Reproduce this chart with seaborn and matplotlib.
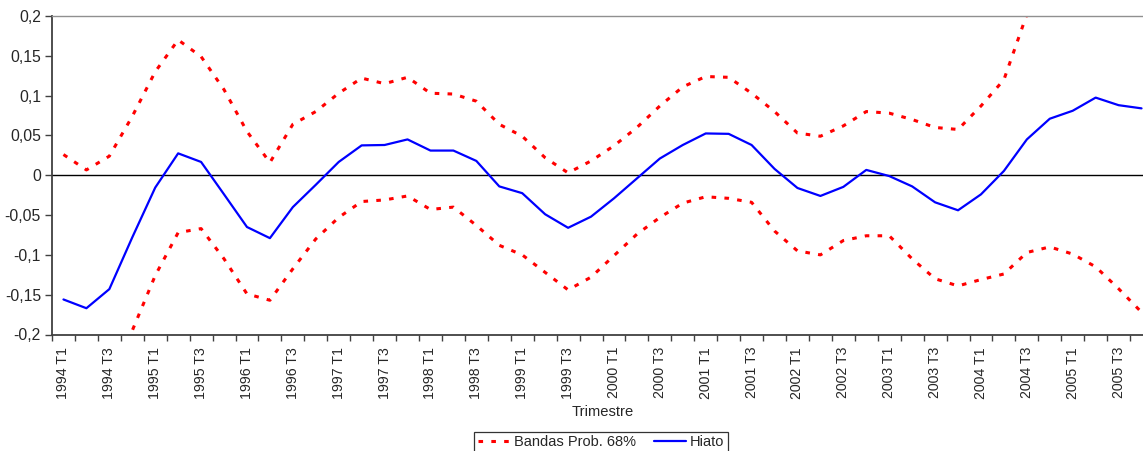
import matplotlib
matplotlib.use("Agg")
import matplotlib.pyplot as plt
from matplotlib.lines import Line2D
from matplotlib.ticker import FixedLocator, FuncFormatter
import numpy as np
import pandas as pd
import seaborn as sns

# Quarterly periods
years = list(range(1994, 2006))
quarters = ["T1", "T2", "T3", "T4"]
periods = [f"{y} {q}" for y in years for q in quarters]

# Output gap estimate
hiato = [-0.156, -0.167, -0.143, -0.078, -0.0155, 0.0275, 0.0167, -0.024,
         -0.065, -0.079, -0.040, -0.012, 0.0167, 0.0375, 0.038, 0.045,
         0.031, 0.031, 0.018, -0.014, -0.0225, -0.049, -0.066, -0.052,
         -0.029, -0.004, 0.021, 0.038, 0.0525, 0.052, 0.038, 0.008,
         -0.016, -0.026, -0.0146, 0.0067, -0.001, -0.014, -0.034, -0.044,
         -0.024, 0.0054, 0.045, 0.071, 0.081, 0.0975, 0.088, 0.084]

# 68% probability band, upper and lower limits
banda_sup = [0.026, 0.0067, 0.024, 0.074, 0.130, 0.170, 0.149, 0.1075,
             0.055, 0.016, 0.064, 0.080, 0.103, 0.122, 0.115, 0.123,
             0.103, 0.102, 0.093, 0.064, 0.049, 0.022, 0.003, 0.018,
             0.037, 0.060, 0.087, 0.111, 0.124, 0.123, 0.103, 0.080,
             0.053, 0.049, 0.062, 0.080, 0.078, 0.070, 0.060, 0.0575,
             0.087, 0.120, 0.202, 0.26, 0.29, 0.31, 0.32, 0.33]
banda_inf = [-0.30, -0.31, -0.27, -0.195, -0.126, -0.072, -0.067, -0.105,
             -0.149, -0.157, -0.1175, -0.080, -0.053, -0.033, -0.031, -0.026,
             -0.043, -0.040, -0.063, -0.088, -0.100, -0.122, -0.144, -0.128,
             -0.101, -0.074, -0.053, -0.035, -0.027, -0.029, -0.034, -0.070,
             -0.095, -0.100, -0.082, -0.076, -0.076, -0.105, -0.130, -0.139,
             -0.131, -0.124, -0.097, -0.090, -0.099, -0.115, -0.1425, -0.172]

y_ticks = [-0.2, -0.15, -0.1, -0.05, 0, 0.05, 0.1, 0.15, 0.2]

sns.set_theme(style="white")
plt.rcParams["font.family"] = ["Liberation Sans", "DejaVu Sans"]
plt.rcParams["font.size"] = 10

W, H = 1143, 451
fig = plt.figure(figsize=(W / 100, H / 100), dpi=100)
ax = fig.add_axes([52 / W, (H - 334.5) / H, (1153 - 52) / W, (334.5 - 16) / H])

df = pd.DataFrame({"idx": np.arange(len(periods)), "periodo": periods,
                   "hiato": hiato, "sup": banda_sup, "inf": banda_inf})

red_dash = (1.5, 2.7)
sns.lineplot(data=df, x="idx", y="sup", ax=ax, color="#FF0000", linewidth=2.2,
             legend=False)
sns.lineplot(data=df, x="idx", y="inf", ax=ax, color="#FF0000", linewidth=2.2,
             legend=False)
for ln in ax.lines:
    ln.set_dashes(red_dash)
    ln.set_dash_capstyle("butt")
ax.axhline(0, color="black", linewidth=1.0, zorder=1)
sns.lineplot(data=df, x="idx", y="hiato", ax=ax, color="#0000FF", linewidth=1.6,
             legend=False)

n = len(periods)
ax.set_xlim(-0.5, n - 0.5)
ax.set_ylim(-0.2, 0.2)

# Tick marks on category boundaries, labels every two quarters
ax.xaxis.set_major_locator(FixedLocator(np.arange(-0.5, n, 1.0)))
ax.xaxis.set_major_formatter(FuncFormatter(lambda v, p: ""))
ax.xaxis.set_minor_locator(FixedLocator(np.arange(0, n, 2)))
ax.set_xticklabels(periods[::2], minor=True, rotation=90, fontsize=10.2)
ax.tick_params(axis="x", which="major", direction="out", length=4, width=1,
               color="#404040", bottom=True)
ax.tick_params(axis="x", which="minor", length=0, pad=9, bottom=True)

ax.set_yticks(y_ticks)
ax.yaxis.set_major_formatter(FuncFormatter(lambda v, p: f"{v:g}".replace(".", ",")))
ax.tick_params(axis="y", direction="out", length=5, width=1, color="#404040",
               left=True, labelsize=11.3, pad=3)

for side in ["left", "bottom"]:
    ax.spines[side].set_color("#404040")
    ax.spines[side].set_linewidth(1.3)
for side in ["top", "right"]:
    ax.spines[side].set_color("#909090")
    ax.spines[side].set_linewidth(1.0)

ax.set_ylabel("")
ax.set_xlabel("Trimestre", fontsize=10.6, labelpad=4)
ax.grid(False)

handles = [Line2D([0], [0], color="#FF0000", linewidth=2.2, dashes=red_dash,
                  dash_capstyle="butt"),
           Line2D([0], [0], color="#0000FF", linewidth=1.6)]
leg = fig.legend(handles, ["Bandas Prob. 68%", "Hiato"], loc="upper left",
                 bbox_to_anchor=(474 / W, 1 - 431.5 / H), ncol=2, frameon=True,
                 fancybox=False, edgecolor="black", fontsize=10.5,
                 borderpad=0.25, handlelength=2.2, handletextpad=0.3,
                 columnspacing=1.2, borderaxespad=0)
leg.get_frame().set_linewidth(0.9)

fig.savefig("out.png", dpi=100)
